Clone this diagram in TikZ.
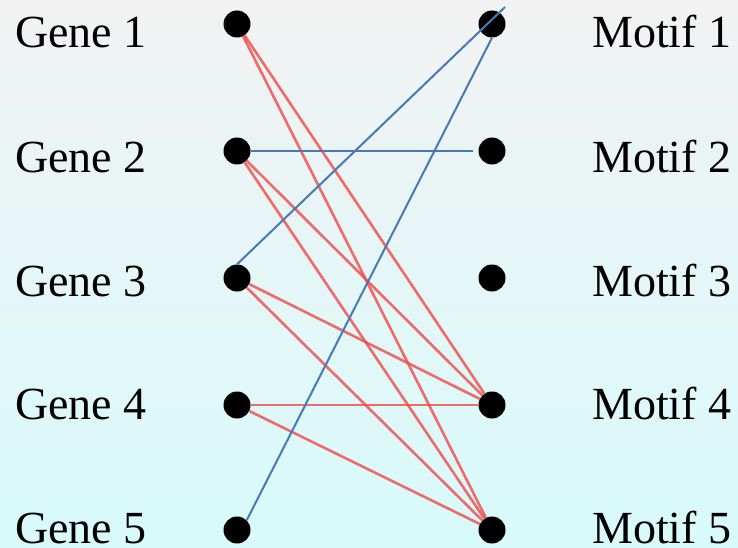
\documentclass[tikz,border=0pt]{standalone}
\usepackage{fontspec}
\setmainfont{Liberation Serif}
\usepackage{tikz}
\usetikzlibrary{calc}

\definecolor{bgtop}{RGB}{242,242,242}
\definecolor{bgbot}{RGB}{216,250,251}
\definecolor{linkred}{RGB}{242,72,72}
\definecolor{linkblue}{RGB}{70,122,182}

\begin{document}
\begin{tikzpicture}[x=1pt,y=-1pt,
  dot/.style={circle,fill=black,inner sep=0pt,minimum size=27pt},
  lbl/.style={anchor=base west,inner sep=0pt,font=\fontsize{46}{50}\selectfont},
  redlink/.style={draw=linkred,line width=2.6pt,opacity=0.8},
  bluelink/.style={draw=linkblue,line width=2pt}]
\shade[top color=bgtop,bottom color=bgbot] (0,0) rectangle (738,548);
\useasboundingbox (0,0) rectangle (738,548);
% genes
\node[lbl] (gl1) at (15,48) {Gene 1};
\node[lbl] (gl2) at (15,172) {Gene 2};
\node[lbl] (gl3) at (15,296) {Gene 3};
\node[lbl] (gl4) at (15,419) {Gene 4};
\node[lbl] (gl5) at (15,543) {Gene 5};
\node[dot] (g1) at (237,24) {};
\node[dot] (g2) at (237,151) {};
\node[dot] (g3) at (237,278) {};
\node[dot] (g4) at (237,405) {};
\node[dot] (g5) at (237,530) {};
% motifs
\node[lbl] (ml1) at (592,48) {Motif 1};
\node[lbl] (ml2) at (592,172) {Motif 2};
\node[lbl] (ml3) at (592,296) {Motif 3};
\node[lbl] (ml4) at (592,419) {Motif 4};
\node[lbl] (ml5) at (592,543) {Motif 5};
\node[dot] (m1) at (492,24) {};
\node[dot] (m2) at (492,151) {};
\node[dot] (m3) at (492,278) {};
\node[dot] (m4) at (492,405) {};
\node[dot] (m5) at (492,530) {};
% red links
\draw[redlink] (g1) -- (m4); \draw[redlink] (g1) -- (m5);
\draw[redlink] (g2) -- (m4); \draw[redlink] (g2) -- (m5);
\draw[redlink] (g3) -- (m4); \draw[redlink] (g3) -- (m5);
\draw[redlink] (g4) -- (m4); \draw[redlink] (g4) -- (m5);
% blue links
\coordinate (m1tip) at ($(m1)+(13,-17)$);
\draw[bluelink] (g2.east) -- ([xshift=-5pt]m2.west);
\draw[bluelink] (g3.north) -- (m1tip);
\draw[bluelink] (g5.north east) -- (m1.south);
\end{tikzpicture}
\end{document}
